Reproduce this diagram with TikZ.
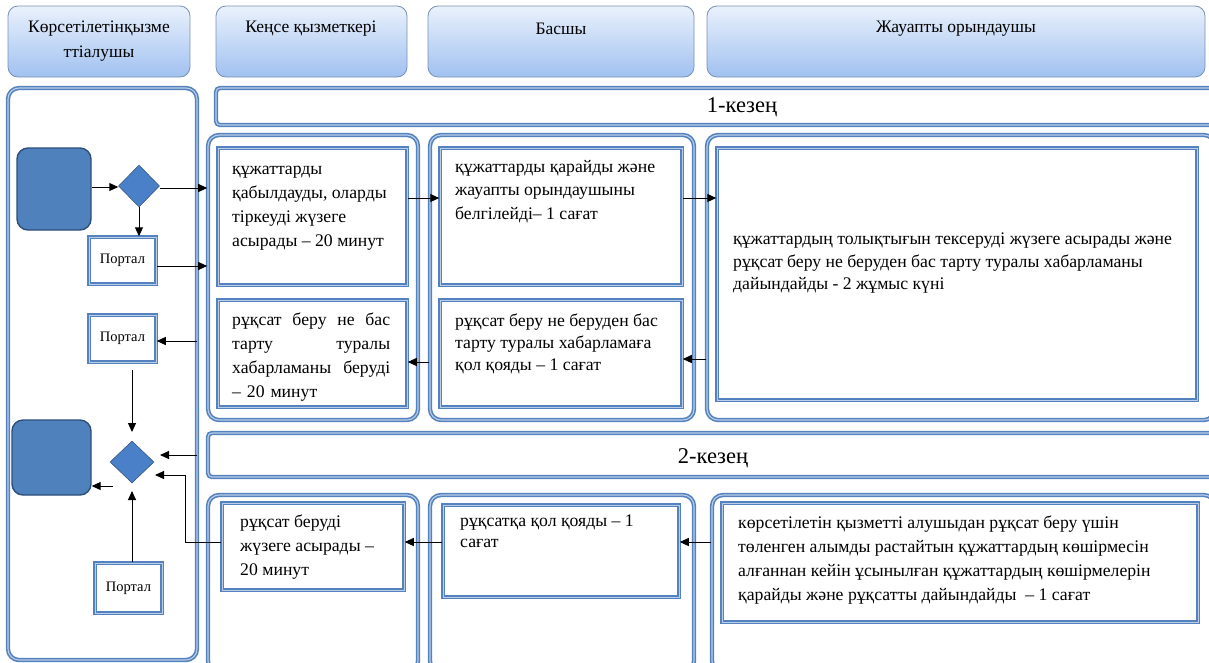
\documentclass[tikz,border=0pt]{standalone}
\usepackage{fontspec}
\setmainfont{Liberation Serif}
\usetikzlibrary{fit,shapes.geometric,arrows.meta}
\definecolor{laneblue}{RGB}{84,130,190}
\definecolor{lanelight}{RGB}{186,205,232}
\definecolor{fillblue}{RGB}{79,129,189}
\definecolor{diafill}{RGB}{74,128,200}
\definecolor{darkborder}{RGB}{46,78,120}
\definecolor{headtop}{RGB}{234,241,252}
\definecolor{headbot}{RGB}{160,193,240}
\definecolor{headborder}{RGB}{120,146,180}
\tikzset{
  lanebox/.style={draw=laneblue, double=lanelight, double distance=1.1pt, line width=1.6pt, rounded corners=11pt, inner sep=0pt},
  stagebar/.style={draw=laneblue, double=lanelight, double distance=1.1pt, line width=1.6pt, rounded corners=4pt, inner sep=0pt},
  inbox/.style={draw=laneblue, double=lanelight, double distance=1pt, line width=1.5pt, inner sep=0pt},
  headbox/.style={rounded corners=10pt, top color=headtop, bottom color=headbot, draw=headborder, line width=0.8pt, inner sep=0pt},
  termbox/.style={rounded corners=11pt, fill=fillblue, draw=darkborder, line width=1.4pt, inner sep=0pt},
  decision/.style={diamond, fill=diafill, draw=darkborder, line width=0.5pt, inner sep=0pt, minimum width=41pt, minimum height=42pt},
  txt/.style={anchor=north west, inner sep=0pt, align=left, font=\fontsize{17.7}{24}\selectfont},
  headtxt/.style={inner sep=0pt, align=center, font=\fontsize{17.5}{25}\selectfont},
  stagetxt/.style={inner sep=0pt, font=\fontsize{22.5}{26}\selectfont},
  portal/.style={inbox},
  portaltxt/.style={inner sep=0pt, font=\fontsize{14.5}{17}\selectfont},
  arr/.style={-{Triangle[length=9pt,width=8pt]}, line width=1pt, black},
}
\begin{document}
\begin{tikzpicture}[x=1pt,y=-1pt]
\useasboundingbox[fill=white] (0,0) rectangle (1209,662);
% headers
\node[headbox, fit={(8,6)(190,77)}] (h1) {};
\node[headtxt] at (99,41) {Көрсетілетінқызме\\ттіалушы};
\node[headbox, fit={(216,6)(407,77)}] (h2) {};
\node[headtxt] at (311,29) {Кеңсе қызметкері};
\node[headbox, fit={(428,6)(694,77)}] (h3) {};
\node[headtxt] at (561,29) {Басшы};
\node[headbox, fit={(707,6)(1205,77)}] (h4) {};
\node[headtxt] at (956,29) {Жауапты орындаушы};
% left lane
\node[lanebox, fit={(8,88)(197,660)}] (laneL) {};
% stage bars
\node[stagebar, fit={(216,88)(1215,125)}] (stage1) {};
\node[stagetxt] at (742,107) {1-кезең};
\node[stagebar, fit={(208,433)(1215,477)}] (stage2) {};
\node[stagetxt] at (713,458) {2-кезең};
% stage 1 lanes
\node[lanebox, fit={(208,135)(418,420)}] (laneA) {};
\node[lanebox, fit={(430,135)(694,420)}] (laneB) {};
\node[lanebox, fit={(707,135)(1215,420)}] (laneC) {};
% stage 2 lanes
\node[lanebox, fit={(208,495)(418,672)}] (laneD) {};
\node[lanebox, fit={(430,495)(694,672)}] (laneE) {};
\node[lanebox, fit={(712,495)(1215,672)}] (laneF) {};
% inner boxes stage 1
\node[inbox, fit={(218,148)(407,285)}] (a1) {};
\node[txt] at (232,166) {құжаттарды\\қабылдауды, оларды\\тіркеуді жүзеге\\асырады – 20 минут};
\node[inbox, fit={(218,300)(407,407)}] (a2) {};
\node[txt, text width=158pt] at (232,313) {рұқсат\hfill беру\hfill не\hfill бас\\тарту\hfill туралы\\хабарламаны\hfill беруді\\– 20 минут};
\node[inbox, fit={(440,148)(682,285)}] (b1) {};
\node[txt, font=\fontsize{17.7}{23.5}\selectfont] at (455,160) {құжаттарды қарайды және\\жауапты орындаушыны\\белгілейді– 1 сағат};
\node[inbox, fit={(440,300)(682,407)}] (b2) {};
\node[txt, font=\fontsize{17.7}{22}\selectfont] at (455,314) {рұқсат беру не беруден бас\\тарту туралы хабарламаға\\қол қояды – 1 сағат};
\node[inbox, fit={(717,148)(1197,400)}] (c1) {};
\node[txt, font=\fontsize{17.7}{22.5}\selectfont] at (733,233) {құжаттардың толықтығын тексеруді жүзеге асырады және\\рұқсат беру не беруден бас тарту туралы хабарламаны\\дайындайды - 2 жұмыс күні};
% inner boxes stage 2
\node[inbox, fit={(222,503)(404,590)}] (d1) {};
\node[txt] at (240,515) {рұқсат беруді\\жүзеге асырады –\\20 минут};
\node[inbox, fit={(443,505)(679,597)}] (e1) {};
\node[txt, font=\fontsize{17.7}{21}\selectfont] at (460,515) {рұқсатқа қол қояды – 1\\сағат};
\node[inbox, fit={(722,503)(1198,622)}] (f1) {};
\node[txt] at (738,516) {көрсетілетін қызметті алушыдан рұқсат беру үшін\\төленген алымды растайтын құжаттардың көшірмесін\\алғаннан кейін ұсынылған құжаттардың көшірмелерін\\қарайды және рұқсатты дайындайды \ – 1 сағат};
% left lane elements
\node[termbox, fit={(17,148)(91,230)}] (start) {};
\node[decision] (dec1) at (139,186) {};
\node[portal, fit={(89,237)(156,284)}] (p1) {};
\node[portaltxt] at (p1.center) {Портал};
\node[portal, fit={(89,315)(156,362)}] (p2) {};
\node[portaltxt] at (p2.center) {Портал};
\node[termbox, fit={(12,420)(91,495)}] (finish) {};
\node[decision, minimum width=44pt] (dec2) at (132,462) {};
\node[portal, fit={(95,563)(162,613)}] (p3) {};
\node[portaltxt] at (p3.center) {Портал};
% coordinates
\coordinate (l1) at (197,341);
\coordinate (l2) at (197,455);
\coordinate (bend) at (185,475);
\coordinate (p2out) at (132,370);
\coordinate (d2in) at (132,432);
\coordinate (d2r) at (160,455);
\coordinate (d2rb) at (155,475);
\coordinate (d2l) at (113,486);
\coordinate (d2b) at (132,491);
% arrows stage 1
\draw[arr] (start.east |- 0,187) -- (dec1.west |- 0,187);
\draw[arr] (dec1.east |- 0,188) -- (laneA.west |- 0,188);
\draw[arr] (dec1.south) -- (p1.north -| dec1.south);
\draw[arr] (p1.east |- 0,266) -- (laneA.west |- 0,266);
\draw[arr] (a1.east |- 0,198) -- (b1.west |- 0,198);
\draw[arr] (b1.east |- 0,198) -- (c1.west |- 0,198);
\draw[arr] (laneC.west |- 0,359) -- (b2.east |- 0,359);
\draw[arr] (laneB.west |- 0,362) -- (a2.east |- 0,362);
\draw[arr] (l1) -- (p2.east |- l1);
\draw[arr] (p2out) -- (d2in);
\draw[arr] (l2) -- (d2r);
% arrows stage 2
\draw[arr] (laneF.west |- 0,542) -- (e1.east |- 0,542);
\draw[arr] (e1.west |- 0,542) -- (d1.east |- 0,542);
\draw[arr] (d1.west |- 0,542) -| (bend) -- (d2rb);
\draw[arr] (d2l) -- (finish.east |- d2l);
\draw[arr] (p3.north -| d2b) -- (d2b);
\end{tikzpicture}
\end{document}
